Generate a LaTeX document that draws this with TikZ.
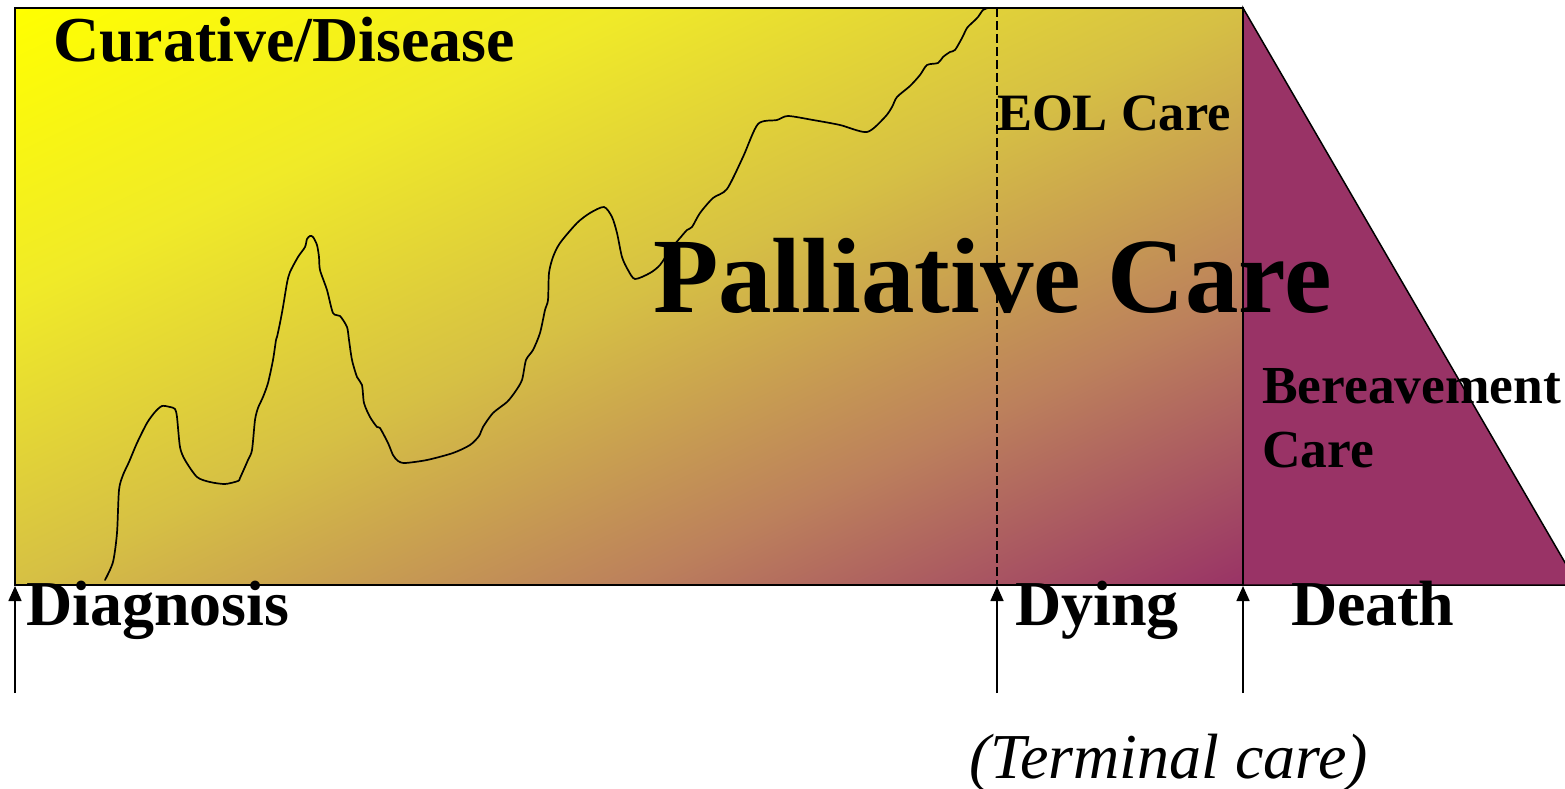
\documentclass[tikz,border=0pt]{standalone}
\usepackage{fontspec}
\setmainfont{Liberation Serif}
\usetikzlibrary{arrows.meta}
\definecolor{cyel}{RGB}{255,255,0}
\definecolor{cqa}{RGB}{240,234,40}
\definecolor{cqb}{RGB}{214,192,68}
\definecolor{cqc}{RGB}{188,128,92}
\definecolor{cpur}{RGB}{153,51,102}
\pgfdeclarehorizontalshading{pcare}{100bp}{color(0bp)=(cyel); color(25bp)=(cyel); color(37.5bp)=(cqa); color(50bp)=(cqb); color(62.5bp)=(cqc); color(75bp)=(cpur); color(100bp)=(cpur)}
\tikzset{
  border/.style={draw=black, line width=1.5pt},
  lbl/.style={inner sep=0pt, outer sep=0pt, anchor=base west, text=black},
  bigbold/.style={lbl, font=\bfseries\fontsize{64}{64}\selectfont},
  arr/.style={line width=1.6pt, -{Triangle[length=15pt,width=13pt]}},
  curve/.style={line width=1.7pt, line join=round, line cap=round},
  dyingline/.style={line width=1.6pt, dash pattern=on 9pt off 4pt}
}
\begin{document}
\begin{tikzpicture}[x=1pt,y=-1pt]
\useasboundingbox (0,0) rectangle (1565,789);
\clip (0,0) rectangle (1565,789);
\fill[white] (0,0) rectangle (1565,789);
% bereavement trapezoid
\filldraw[fill=cpur, border] (1243,8) -- (1578,585) -- (1243,585) -- cycle;
% shaded palliative region
\begin{scope}
  \clip (15,8) rectangle (1243,585);
  \begin{scope}[transform canvas={cm={12.28,-5.77,12.28,5.77,(15pt,-8pt)}}]
    \shade[shading=pcare] (0pt,-50pt) rectangle (100pt,50pt);
  \end{scope}
\end{scope}
\draw[border] (15,8) rectangle (1243,585);
% disease curve
\draw[curve] plot[smooth, tension=0.45] coordinates {
(105,580) (113,562) (117,533) (119,490) (123,475) (129,462) (137,443) (147,423) (155,412) (162,406) (170,407) (175,409) (177,417) (180,447) (185,460) (197,477) (210,482) (225,484) (238,481) (240,478) (248,460) (252,450) (255,420) (258,408) (263,397) (268,383) (273,360) (276,340) (277,337) (280,323) (283,307) (287,283) (290,272) (298,257) (305,247) (307,239) (310,236) (313,237) (317,245) (319,257) (320,270) (327,290) (333,313) (340,316) (347,327) (349,340) (352,360) (357,377) (362,385) (364,403) (370,417) (377,427) (380,428) (388,443) (393,455) (398,461) (405,463) (427,460) (453,453) (470,445) (479,436) (483,427) (493,413) (507,402) (515,392) (522,380) (526,360) (533,350) (540,333) (545,310) (548,300) (549,273) (553,257) (560,243) (577,223) (590,213) (604,207) (612,217) (617,233) (622,257) (628,270) (635,279) (650,273) (660,265) (670,250) (680,238) (687,230) (692,227) (700,213) (713,198) (727,189) (743,157) (758,124) (777,120) (788,116) (813,120) (840,125) (867,132) (885,117) (892,107) (897,97) (910,86) (920,75) (927,65) (938,63) (943,57) (950,52) (955,50) (962,38) (967,28) (973,22) (978,17) (983,10) (988,8)};
% dying line
\draw[dyingline] (997,8) -- (997,585);
% arrows
\coordinate (diagS) at (15,693);
\coordinate (diagE) at (15,586);
\coordinate (dyingS) at (997,693);
\coordinate (dyingE) at (997,586);
\coordinate (deathS) at (1243,693);
\coordinate (deathE) at (1243,586);
\draw[arr] (diagS) -- (diagE);
\draw[arr] (dyingS) -- (dyingE);
\draw[arr] (deathS) -- (deathE);
% texts
\node[bigbold] (cur) at (53,62) {Curative/Disease};
\node[lbl, font=\bfseries\fontsize{52.5}{52.5}\selectfont] (eol) at (997,131) {EOL Care};
\node[lbl, font=\bfseries\fontsize{107}{107}\selectfont] (pal) at (653,312) {Palliative Care};
\node[lbl, font=\bfseries\fontsize{53.5}{53.5}\selectfont] (ber1) at (1262,403) {Bereavement};
\node[lbl, font=\bfseries\fontsize{53.5}{53.5}\selectfont] (ber2) at (1262,467) {Care};
\node[bigbold] (diag) at (26,625) {Diagnosis};
\node[bigbold] (dying) at (1015,625) {Dying};
\node[bigbold] (death) at (1291,625) {Death};
\node[lbl, font=\itshape\fontsize{64}{64}\selectfont] (term) at (969,778) {(Terminal care)};
\end{tikzpicture}
\end{document}
